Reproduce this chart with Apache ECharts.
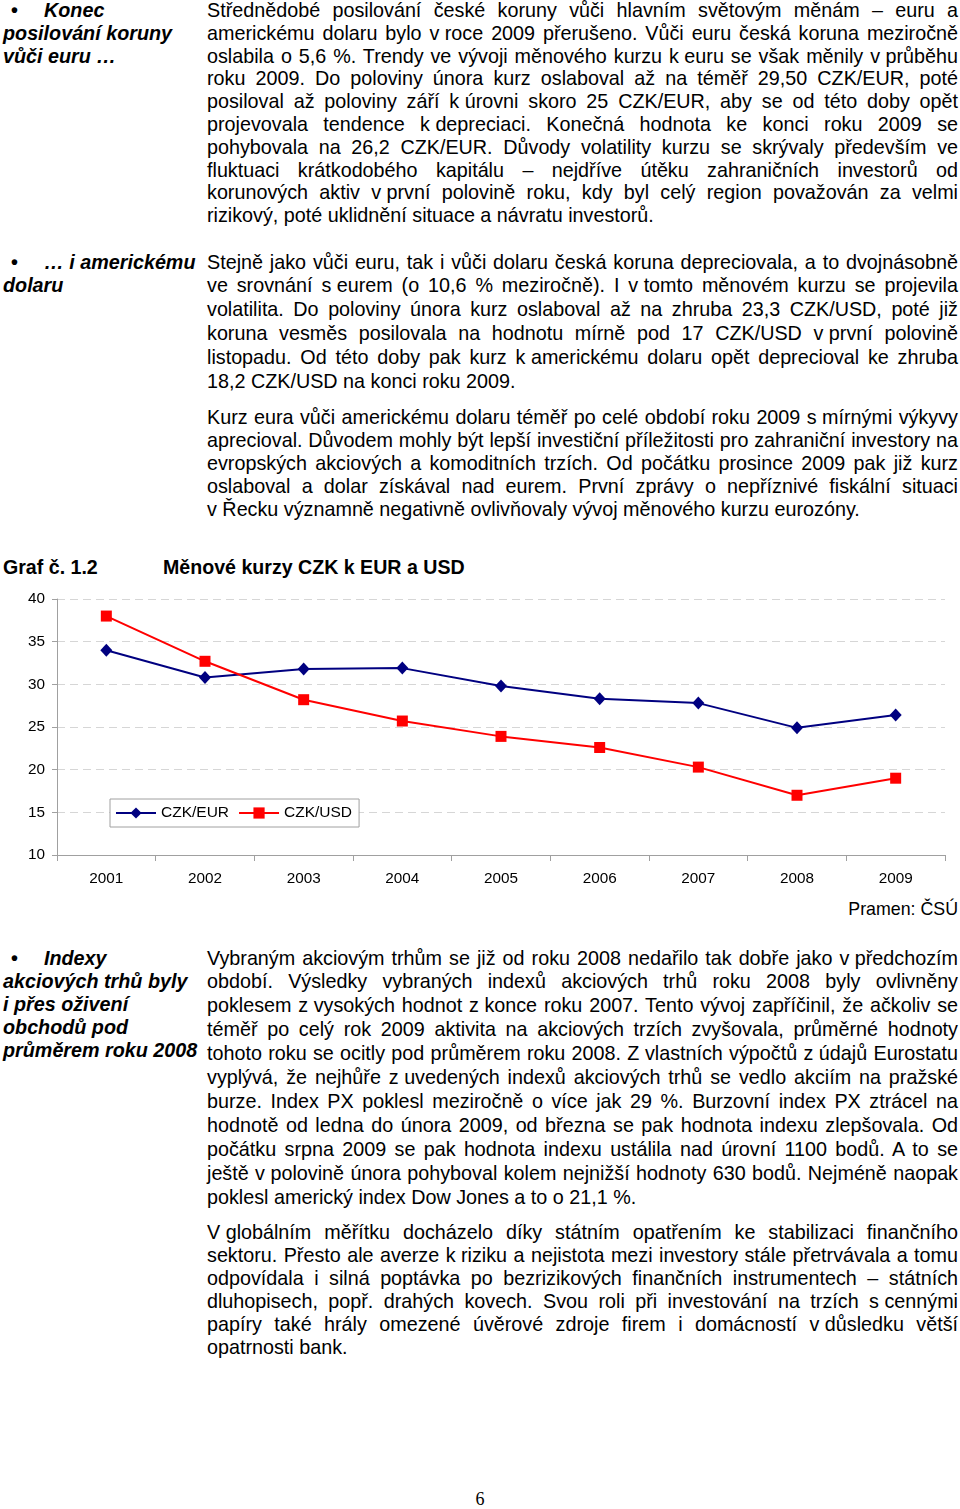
<!DOCTYPE html>
<html lang="cs">
<head>
<meta charset="utf-8">
<script src="https://cdn.jsdelivr.net/npm/echarts@6/dist/echarts.min.js"></script>
<style>
  html, body { margin:0; padding:0; background:#fff; }
  body { width:960px; height:1509px; position:relative; overflow:hidden;
         font-family:"Liberation Sans", Arial, sans-serif; color:#000; }
  .blk { position:absolute; left:207px; width:751px; font-size:19.75px; }
  .ln { white-space:nowrap; text-align:justify; text-align-last:justify; }
  .ln.last { text-align-last:left; }
  .nb { display:inline-block; white-space:pre; }
  .side { position:absolute; left:3px; width:200px; font-size:19.75px; font-weight:bold; font-style:italic; white-space:pre; }
  .bul { position:absolute; left:8px; font-style:normal; }
  .ttl { position:absolute; font-size:19.6px; font-weight:bold; white-space:nowrap; }
  #chart { position:absolute; left:0; top:585px; width:960px; height:310px; }
  #src { position:absolute; right:2px; top:899px; font-size:17.8px; }
  #pg { position:absolute; left:0; width:960px; text-align:center; top:1489px; font-family:"Liberation Serif", "Times New Roman", serif; font-size:18px; }
</style>
</head>
<body>
<div id="content"></div>
<div class="ttl" style="left:3px; top:556px;">Graf č. 1.2</div>
<div class="ttl" style="left:163px; top:556px;">Měnové kurzy CZK k EUR a USD</div>
<div id="chart"></div>
<div id="src">Pramen: ČSÚ</div>
<div id="pg">6</div>
<script>
// ---- chart data ----
var years = ['2001','2002','2003','2004','2005','2006','2007','2008','2009'];
var czkEur = [34.0, 30.8, 31.8, 31.9, 29.8, 28.3, 27.8, 24.9, 26.4];
var czkUsd = [38.0, 32.7, 28.2, 25.7, 23.9, 22.6, 20.3, 17.0, 19.0];
var seriesNames = ['CZK/EUR', 'CZK/USD'];
var yTicks = { min: 10, max: 40, step: 5 };

// ---- page text ----
var p1 = [
 'Střednědobé posilování české koruny vůči hlavním světovým měnám – euru a',
 'americkému dolaru bylo v roce 2009 přerušeno. Vůči euru česká koruna meziročně',
 'oslabila o 5,6 %. Trendy ve vývoji měnového kurzu k euru se však měnily v průběhu',
 'roku 2009. Do poloviny února kurz oslaboval až na téměř 29,50 CZK/EUR, poté',
 'posiloval až poloviny září k úrovni skoro 25 CZK/EUR, aby se od této doby opět',
 'projevovala tendence k depreciaci. Konečná hodnota ke konci roku 2009 se',
 'pohybovala na 26,2 CZK/EUR. Důvody volatility kurzu se skrývaly především ve',
 'fluktuaci krátkodobého kapitálu – nejdříve útěku zahraničních investorů od',
 'korunových aktiv v první polovině roku, kdy byl celý region považován za velmi',
 'rizikový, poté uklidnění situace a návratu investorů.'
];
var p2 = [
 'Stejně jako vůči euru, tak i vůči dolaru česká koruna depreciovala, a to dvojnásobně',
 've srovnání s eurem (o 10,6 % meziročně). I v tomto měnovém kurzu se projevila',
 'volatilita. Do poloviny února kurz oslaboval až na zhruba 23,3 CZK/USD, poté již',
 'koruna vesměs posilovala na hodnotu mírně pod 17 CZK/USD v první polovině',
 'listopadu. Od této doby pak kurz k americkému dolaru opět deprecioval ke zhruba',
 '18,2 CZK/USD na konci roku 2009.'
];
var p3 = [
 'Kurz eura vůči americkému dolaru téměř po celé období roku 2009 s mírnými výkyvy',
 'aprecioval. Důvodem mohly být lepší investiční příležitosti pro zahraniční investory na',
 'evropských akciových a komoditních trzích. Od počátku prosince 2009 pak již kurz',
 'oslaboval a dolar získával nad eurem. První zprávy o nepříznivé fiskální situaci',
 'v Řecku významně negativně ovlivňovaly vývoj měnového kurzu eurozóny.'
];
var p4 = [
 'Vybraným akciovým trhům se již od roku 2008 nedařilo tak dobře jako v předchozím',
 'období. Výsledky vybraných indexů akciových trhů roku 2008 byly ovlivněny',
 'poklesem z vysokých hodnot z konce roku 2007. Tento vývoj zapříčinil, že ačkoliv se',
 'téměř po celý rok 2009 aktivita na akciových trzích zvyšovala, průměrné hodnoty',
 'tohoto roku se ocitly pod průměrem roku 2008. Z vlastních výpočtů z údajů Eurostatu',
 'vyplývá, že nejhůře z uvedených indexů akciových trhů se vedlo akciím na pražské',
 'burze. Index PX poklesl meziročně o více jak 29 %. Burzovní index PX ztrácel na',
 'hodnotě od ledna do února 2009, od března se pak hodnota indexu zlepšovala. Od',
 'počátku srpna 2009 se pak hodnota indexu ustálila nad úrovní 1100 bodů. A to se',
 'ještě v polovině února pohyboval kolem nejnižší hodnoty 630 bodů. Nejméně naopak',
 'poklesl americký index Dow Jones a to o 21,1 %.'
];
var p5 = [
 'V globálním měřítku docházelo díky státním opatřením ke stabilizaci finančního',
 'sektoru. Přesto ale averze k riziku a nejistota mezi investory stále přetrvávala a tomu',
 'odpovídala i silná poptávka po bezrizikových finančních instrumentech – státních',
 'dluhopisech, popř. drahých kovech. Svou roli při investování na trzích s cennými',
 'papíry také hrály omezené úvěrové zdroje firem i domácností v důsledku větší',
 'opatrnosti bank.'
];

var content = document.getElementById('content');
function esc(s){ return s.replace(/&/g,'&amp;').replace(/</g,'&lt;'); }
function block(top, lh, lines){
  var d = document.createElement('div');
  d.className = 'blk';
  d.style.top = top + 'px';
  d.style.lineHeight = lh + 'px';
  lines.forEach(function(t, i){
    var l = document.createElement('div');
    l.className = 'ln' + (i === lines.length - 1 ? ' last' : '');
    l.style.height = lh + 'px';
    l.innerHTML = esc(t).replace(/(^|\s)([vkszVKSZ]) (\S+)/g, '$1<span class="nb">$2 $3</span>');
    d.appendChild(l);
  });
  content.appendChild(d);
}
function side(top, lh, lines){
  var d = document.createElement('div');
  d.className = 'side';
  d.style.top = top + 'px';
  d.style.lineHeight = lh + 'px';
  d.innerHTML = lines.map(function(t, i){
    if (i === 0) return '<span class="bul">•</span><span style="padding-left:41px">' + esc(t) + '</span>';
    return esc(t);
  }).join('<br>');
  content.appendChild(d);
}
block(-1.0, 22.8, p1);
block(250.6, 23.8, p2);
block(405.8, 23, p3);
block(946.6, 23.9, p4);
block(1220.8, 23, p5);
side(-1.0, 22.8, ['Konec', 'posilování koruny', 'vůči euru …']);
side(250.6, 23.8, ['… i americkému', 'dolaru']);
side(946.6, 23.2, ['Indexy', 'akciových trhů byly', 'i přes oživení', 'obchodů pod', 'průměrem roku 2008']);

// ---- chart ----
var chart = echarts.init(document.getElementById('chart'), null, { renderer: 'canvas' });
var font = '"Liberation Sans", Arial, sans-serif';
chart.setOption({
  animation: false,
  textStyle: { fontFamily: font },
  grid: { left: 57, right: 15, top: 14, bottom: 40 },
  legend: {
    left: 110, top: 214,
    backgroundColor: '#fff', borderColor: '#a0a0a0', borderWidth: 1,
    padding: [6, 7, 6, 5], itemGap: 9, itemWidth: 40, itemHeight: 14,
    textStyle: { fontSize: 15.5, color: '#000', fontFamily: font },
    data: seriesNames
  },
  xAxis: {
    type: 'category', data: years, boundaryGap: true,
    axisLine: { lineStyle: { color: '#a0a0a0', width: 1 } },
    axisTick: { show: true, length: 6, lineStyle: { color: '#a0a0a0' } },
    axisLabel: { fontSize: 15.3, color: '#000', margin: 16, fontFamily: font }
  },
  yAxis: {
    type: 'value', min: yTicks.min, max: yTicks.max, interval: yTicks.step,
    axisLine: { show: true, lineStyle: { color: '#a0a0a0', width: 1 } },
    axisTick: { show: true, length: 5, lineStyle: { color: '#a0a0a0' } },
    splitLine: { show: true, lineStyle: { color: '#d6d6d6', type: [8, 5], width: 1 } },
    axisLabel: { fontSize: 15.3, color: '#000', margin: 12, fontFamily: font }
  },
  series: [
    { name: seriesNames[0], type: 'line', data: czkEur, symbol: 'diamond', symbolSize: [12, 13],
      lineStyle: { color: '#000080', width: 2 }, itemStyle: { color: '#000080' } },
    { name: seriesNames[1], type: 'line', data: czkUsd, symbol: 'rect', symbolSize: [11, 11],
      lineStyle: { color: '#ff0000', width: 2 }, itemStyle: { color: '#ff0000' } }
  ]
});
</script>
</body>
</html>
